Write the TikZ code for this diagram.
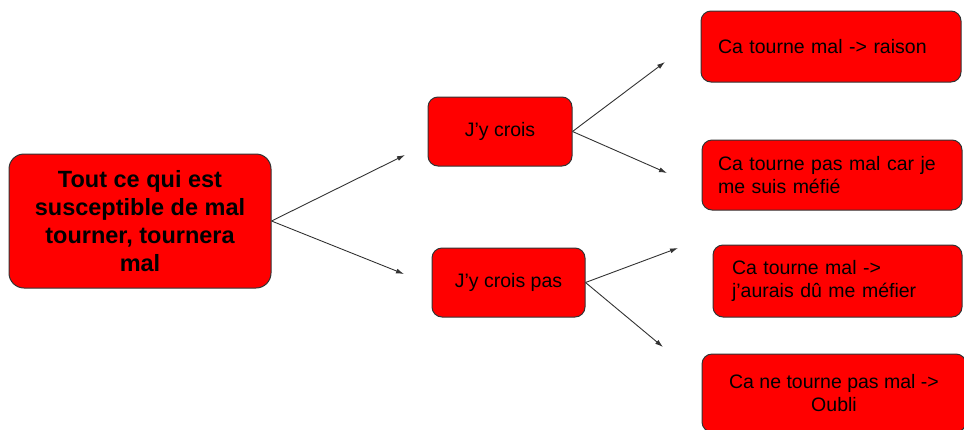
\documentclass[tikz,border=0pt]{standalone}
\usepackage{fontspec}
\setmainfont{Liberation Sans}
\usetikzlibrary{arrows.meta}
\begin{document}
\begin{tikzpicture}[x=1pt,y=-1pt,
  box/.style={draw=black!80, fill=red, rounded corners=10pt, line width=1pt,
    inner sep=0pt, font=\fontsize{19.5}{23}\selectfont, text=black},
  conn/.style={draw=black!80, line width=0.9pt, -{Latex[length=8pt,width=5pt]}}]
\useasboundingbox (0,0) rectangle (964,429);
\clip (0,0) rectangle (964,429);
\node[box, rounded corners=15pt, minimum width=262pt, minimum height=134pt, align=center,
  font=\bfseries\fontsize{23.5}{28}\selectfont] (main) at (140,221)
  {Tout ce qui est\\susceptible de mal\\tourner, tournera\\mal};
\node[box, minimum width=144pt, minimum height=69pt] (crois) at (500,131.5) {J'y crois};
\node[box, minimum width=153pt, minimum height=69pt] (croispas) at (508.5,282.5) {J'y crois pas};
\node[box, text width=226pt, inner xsep=17pt, minimum height=71pt, align=left] (r1) at (831,46.5)
  {Ca tourne mal -> raison};
\node[box, text width=228pt, inner xsep=16pt, minimum height=70pt, align=left] (r2) at (832,175)
  {Ca tourne pas mal car je\\me suis méfié};
\node[box, text width=211pt, inner xsep=19pt, minimum height=72pt, align=left] (r3) at (837.5,281)
  {Ca tourne mal ->\\j'aurais dû me méfier};
\node[box, minimum width=264pt, minimum height=78pt, align=center] (r4) at (834,393)
  {Ca ne tourne pas mal ->\\Oubli};
\coordinate (a1) at (405,155);
\coordinate (a2) at (404,274);
\coordinate (b1) at (665,62);
\coordinate (b2) at (667,173);
\coordinate (c1) at (678,248);
\coordinate (c2) at (663,347);
\draw[conn] (main.east) -- (a1);
\draw[conn] (main.east) -- (a2);
\draw[conn] (crois.east) -- (b1);
\draw[conn] (crois.east) -- (b2);
\draw[conn] (croispas.east) -- (c1);
\draw[conn] (croispas.east) -- (c2);
\end{tikzpicture}
\end{document}
